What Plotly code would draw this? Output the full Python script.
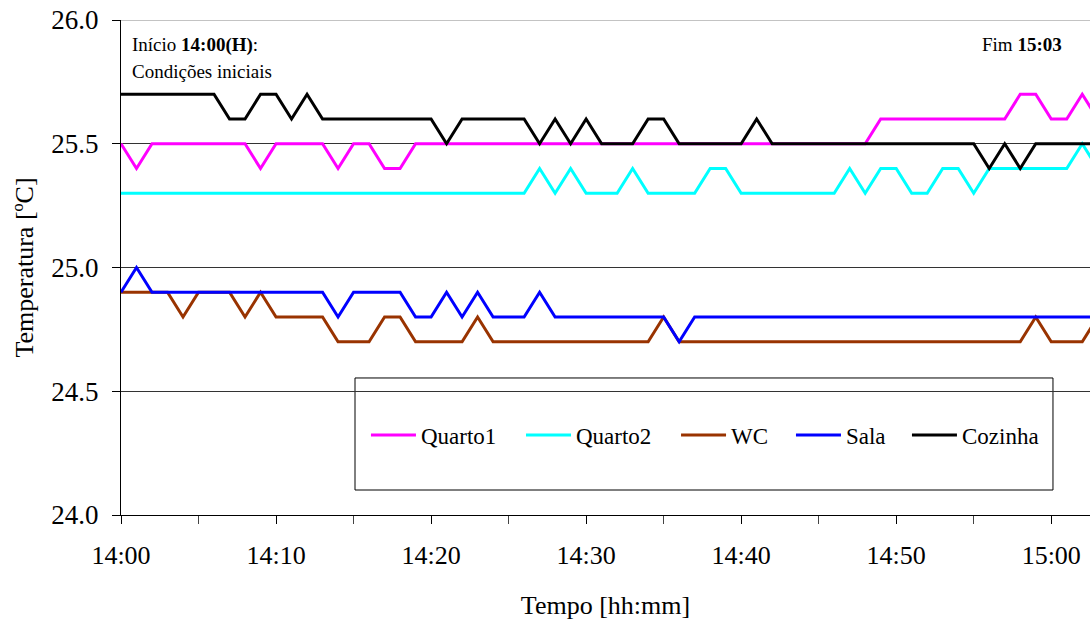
import pandas as pd
import plotly.graph_objects as go

# one reading per minute, 14:00 -> 15:03
times = pd.date_range("2000-01-01 14:00", "2000-01-01 15:03", freq="min")

quarto1 = [25.5, 25.4, 25.5, 25.5, 25.5, 25.5, 25.5, 25.5, 25.5, 25.4,
           25.5, 25.5, 25.5, 25.5, 25.4, 25.5, 25.5, 25.4, 25.4, 25.5,
           25.5, 25.5, 25.5, 25.5, 25.5, 25.5, 25.5, 25.5, 25.5, 25.5,
           25.5, 25.5, 25.5, 25.5, 25.5, 25.5, 25.5, 25.5, 25.5, 25.5,
           25.5, 25.5, 25.5, 25.5, 25.5, 25.5, 25.5, 25.5, 25.5, 25.6,
           25.6, 25.6, 25.6, 25.6, 25.6, 25.6, 25.6, 25.6, 25.7, 25.7,
           25.6, 25.6, 25.7, 25.6]

quarto2 = [25.3, 25.3, 25.3, 25.3, 25.3, 25.3, 25.3, 25.3, 25.3, 25.3,
           25.3, 25.3, 25.3, 25.3, 25.3, 25.3, 25.3, 25.3, 25.3, 25.3,
           25.3, 25.3, 25.3, 25.3, 25.3, 25.3, 25.3, 25.4, 25.3, 25.4,
           25.3, 25.3, 25.3, 25.4, 25.3, 25.3, 25.3, 25.3, 25.4, 25.4,
           25.3, 25.3, 25.3, 25.3, 25.3, 25.3, 25.3, 25.4, 25.3, 25.4,
           25.4, 25.3, 25.3, 25.4, 25.4, 25.3, 25.4, 25.4, 25.4, 25.4,
           25.4, 25.4, 25.5, 25.4]

wc = [24.9, 24.9, 24.9, 24.9, 24.8, 24.9, 24.9, 24.9, 24.8, 24.9,
      24.8, 24.8, 24.8, 24.8, 24.7, 24.7, 24.7, 24.8, 24.8, 24.7,
      24.7, 24.7, 24.7, 24.8, 24.7, 24.7, 24.7, 24.7, 24.7, 24.7,
      24.7, 24.7, 24.7, 24.7, 24.7, 24.8, 24.7, 24.7, 24.7, 24.7,
      24.7, 24.7, 24.7, 24.7, 24.7, 24.7, 24.7, 24.7, 24.7, 24.7,
      24.7, 24.7, 24.7, 24.7, 24.7, 24.7, 24.7, 24.7, 24.7, 24.8,
      24.7, 24.7, 24.7, 24.8]

sala = [24.9, 25.0, 24.9, 24.9, 24.9, 24.9, 24.9, 24.9, 24.9, 24.9,
        24.9, 24.9, 24.9, 24.9, 24.8, 24.9, 24.9, 24.9, 24.9, 24.8,
        24.8, 24.9, 24.8, 24.9, 24.8, 24.8, 24.8, 24.9, 24.8, 24.8,
        24.8, 24.8, 24.8, 24.8, 24.8, 24.8, 24.7, 24.8, 24.8, 24.8,
        24.8, 24.8, 24.8, 24.8, 24.8, 24.8, 24.8, 24.8, 24.8, 24.8,
        24.8, 24.8, 24.8, 24.8, 24.8, 24.8, 24.8, 24.8, 24.8, 24.8,
        24.8, 24.8, 24.8, 24.8]

cozinha = [25.7, 25.7, 25.7, 25.7, 25.7, 25.7, 25.7, 25.6, 25.6, 25.7,
           25.7, 25.6, 25.7, 25.6, 25.6, 25.6, 25.6, 25.6, 25.6, 25.6,
           25.6, 25.5, 25.6, 25.6, 25.6, 25.6, 25.6, 25.5, 25.6, 25.5,
           25.6, 25.5, 25.5, 25.5, 25.6, 25.6, 25.5, 25.5, 25.5, 25.5,
           25.5, 25.6, 25.5, 25.5, 25.5, 25.5, 25.5, 25.5, 25.5, 25.5,
           25.5, 25.5, 25.5, 25.5, 25.5, 25.5, 25.4, 25.5, 25.4, 25.5,
           25.5, 25.5, 25.5, 25.5]

series = [("Quarto1", quarto1, "#FF00FF"),
          ("Quarto2", quarto2, "#00FFFF"),
          ("WC", wc, "#993300"),
          ("Sala", sala, "#0000FF"),
          ("Cozinha", cozinha, "#000000")]

SERIF = "Liberation Serif, Times New Roman, serif"

# one small legend per entry so each can sit where the original has it
legend_x = [0.2528, 0.4128, 0.5728, 0.6914, 0.8111]
legend_ids = ["legend2", "legend3", "legend4", "legend5", "legend6"]

fig = go.Figure()
for (name, vals, col), lid in zip(series, legend_ids):
    fig.add_trace(go.Scatter(x=times, y=vals, mode="lines", name=name,
                             line=dict(color=col, width=3), legend=lid))

# big white legend box, like the original
fig.add_shape(type="rect", xref="paper", yref="paper",
              x0=0.2415, x1=0.9618, y0=0.0505, y1=0.2768,
              line=dict(color="black", width=1), fillcolor="white", layer="between")
# top frame line
fig.add_shape(type="line", xref="paper", yref="y", x0=0, x1=1, y0=26, y1=26,
              line=dict(color="#888888", width=1))

fig.add_annotation(text="Início <b>14:00(H)</b>:", xref="paper", yref="paper",
                   x=0.009, y=0.9495, xanchor="left", yanchor="middle",
                   showarrow=False, font=dict(family=SERIF, size=19, color="black"))
fig.add_annotation(text="Condições iniciais", xref="paper", yref="paper",
                   x=0.009, y=0.895, xanchor="left", yanchor="middle",
                   showarrow=False, font=dict(family=SERIF, size=19, color="black"))
fig.add_annotation(text="Fim <b>15:03</b>", xref="paper", yref="paper",
                   x=0.973, y=0.9495, xanchor="right", yanchor="middle",
                   showarrow=False, font=dict(family=SERIF, size=19, color="black"))

leg_style = dict(orientation="h", y=0.1616, xanchor="left", yanchor="middle",
                 bgcolor="rgba(0,0,0,0)", itemwidth=45,
                 font=dict(family=SERIF, size=23))
legends = {lid: dict(x=lx, **leg_style) for lid, lx in zip(legend_ids, legend_x)}

fig.update_layout(
    width=1090, height=624,
    margin=dict(l=121, r=0, t=20, b=109),
    paper_bgcolor="white", plot_bgcolor="white",
    font=dict(family=SERIF, color="black"),
    showlegend=True,
    **legends,
    xaxis=dict(
        range=[pd.Timestamp("2000-01-01 14:00"), pd.Timestamp("2000-01-01 15:02:30")],
        tickformat="%H:%M", dtick=10 * 60 * 1000, tick0=times[0],
        showgrid=False, showline=True, linecolor="black", linewidth=1,
        ticks="outside", ticklen=8, tickcolor="black", ticklabelstandoff=9,
        ticklabeloverflow="allow",
        minor=dict(ticks="outside", ticklen=8, dtick=5 * 60 * 1000, tickcolor="#444"),
        tickfont=dict(family=SERIF, size=26),
        title=dict(text="Tempo [hh:mm]", font=dict(family=SERIF, size=26), standoff=26),
    ),
    yaxis=dict(
        range=[24, 26], dtick=0.5, tickformat=".1f",
        showgrid=True, gridcolor="#333333", gridwidth=1, zeroline=False,
        showline=True, linecolor="black", linewidth=1,
        ticks="outside", ticklen=8, tickcolor="black", ticklabelstandoff=8,
        ticklabeloverflow="allow",
        tickfont=dict(family=SERIF, size=27),
        title=dict(text="Temperatura [ºC]", font=dict(family=SERIF, size=26), standoff=10),
    ),
)

# drop the default page margin so the chart fills the window like the original
fig.write_html("out.html", config={"displayModeBar": False},
               post_script="document.body.style.margin='0';document.body.style.overflow='hidden';")
